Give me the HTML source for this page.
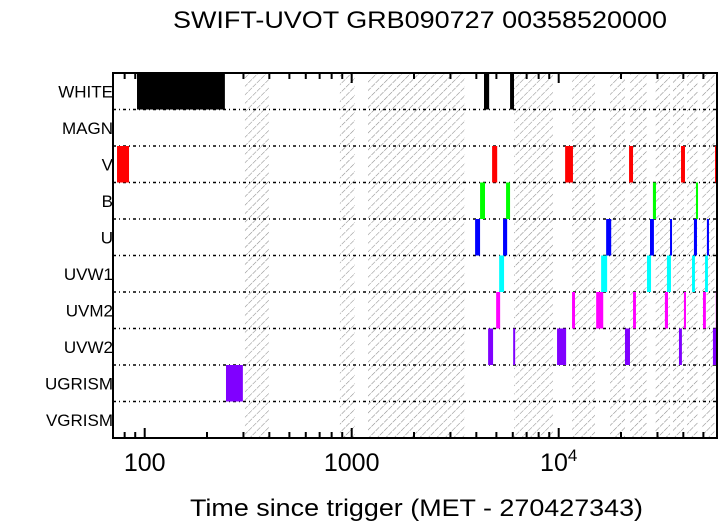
<!DOCTYPE html>
<html><head><meta charset="utf-8"><style>
html,body{margin:0;padding:0;background:#fff;}
svg{display:block;font-family:"Liberation Sans",sans-serif;}
</style></head><body>
<svg id="chart" width="720" height="522" xmlns="http://www.w3.org/2000/svg">
<defs>
<pattern id="hatch" patternUnits="userSpaceOnUse" width="6" height="6" patternTransform="rotate(45)">
<line x1="0" y1="0" x2="0" y2="6" stroke="#8c8c8c" stroke-width="1.1" stroke-dasharray="3,1"/>
</pattern>
</defs>
<text x="173" y="28" font-size="24" textLength="494" lengthAdjust="spacingAndGlyphs">SWIFT-UVOT GRB090727 00358520000</text>
<text x="190" y="516" font-size="24" textLength="453" lengthAdjust="spacingAndGlyphs">Time since trigger (MET - 270427343)</text>
<g id="hatches"></g><g id="grid"></g><g id="bars"></g><g id="axes"></g>
</svg>
<script>
const filters=["WHITE","MAGN","V","B","U","UVW1","UVM2","UVW2","UGRISM","VGRISM"];
const colors=["#000000","#000000","#ff0000","#00ff00","#0000ff","#00ffff","#ff00ff","#8000ff","#8000ff","#8000ff"];
const gapStarts=[305,877,1199,6083,11600,17700,22100,29200,35650,41700,49200];
const gapEnds=[398,1037,3527,9380,14970,20900,26700,34500,40300,47100,56900];
const barsWHITE=[[91.8,244],[4357,4613],[5821,6083]];
const barsMAGN=[];
const barsV=[[73.5,84],[4767,5045],[10740,11720],[21870,22860],[38990,40740],[56900,58700]];
const barsB=[[4170,4405],[5568,5821],[28520,29510],[46040,47100]];
const barsU=[[3946,4170],[5384,5636],[16950,17930],[27610,28840],[34500,35250],[45010,46560],[52000,53200]];
const barsUVW1=[[5156,5445],[16030,17140],[26700,27930],[33340,34860],[44050,45530],[50930,52600]];
const barsUVM2=[[4987,5213],[11600,11990],[15170,16410],[22860,23620],[32590,33730],[40270,41210],[49780,51410],[57400,58100]];
const barsUVW2=[[4560,4819],[6026,6152],[9817,10860],[20900,22100],[38110,39380],[55600,58100]];
const barsUGRISM=[[247,298]];
const barsVGRISM=[];
const allBars=[barsWHITE,barsMAGN,barsV,barsB,barsU,barsUVW1,barsUVM2,barsUVW2,barsUGRISM,barsVGRISM];
const majorTicks=[100,1000,10000];
const NS="http://www.w3.org/2000/svg";
const L=113,R=717,T=73,B=438,rowH=(B-T)/filters.length;
function xs(t){return Math.max(L,Math.min(R,144.7+207*(Math.log10(t)-2)));}
function ys(i){return T+i*rowH;}
function mk(tag,attrs,parent){const e=document.createElementNS(NS,tag);for(const k in attrs)e.setAttribute(k,attrs[k]);document.getElementById(parent).appendChild(e);return e;}
for(let i=0;i<gapStarts.length;i++){
 const r=mk("rect",{x:xs(gapStarts[i]),y:T,width:xs(gapEnds[i])-xs(gapStarts[i]),height:B-T,fill:"url(#hatch)"},"hatches");
 
 
}
for(let i=1;i<filters.length;i++){
 const l=mk("line",{x1:L,x2:R,y1:ys(i),y2:ys(i),stroke:"#000","stroke-width":1.5,"stroke-dasharray":"3,3,1,3"},"grid");
 
 
}
allBars.forEach((arr,i)=>{
 arr.forEach(b=>{
  const r=mk("rect",{x:xs(b[0]),y:ys(i),width:Math.max(2,xs(b[1])-xs(b[0])),height:rowH,fill:colors[i]},"bars");
  
  
 });
 const t=mk("text",{x:L,y:ys(i)+rowH/2+6,"font-size":17,"text-anchor":"end"},"axes");
 t.textContent=filters[i];
 
 
});
const fr=mk("rect",{x:L,y:T,width:R-L,height:B-T,fill:"none",stroke:"#000","stroke-width":2},"axes");


for(let d=10;d<=10000;d*=10){
 for(let m=1;m<10;m++){
  const t=d*m;const x=144.7+207*(Math.log10(t)-2);
  if(x<L+1||x>R-1)continue;
  const len=(m===1)?10:6;
  const a=mk("line",{x1:x,x2:x,y1:B,y2:B-len,stroke:"#000","stroke-width":2},"axes");
  
  
  const b=mk("line",{x1:x,x2:x,y1:T,y2:T+len,stroke:"#000","stroke-width":2},"axes");
  
  
 }
}
majorTicks.forEach(t=>{
 const x=xs(t);
 const g=document.createElementNS(NS,"text");
 g.setAttribute("x",x);g.setAttribute("y",471);g.setAttribute("font-size",25);g.setAttribute("text-anchor","middle");
 if(t===10000){g.innerHTML='10<tspan font-size="17" dy="-10">4</tspan>';}else{g.textContent=String(t);}
 
 
 document.getElementById("axes").appendChild(g);
});
</script>
</body></html>
